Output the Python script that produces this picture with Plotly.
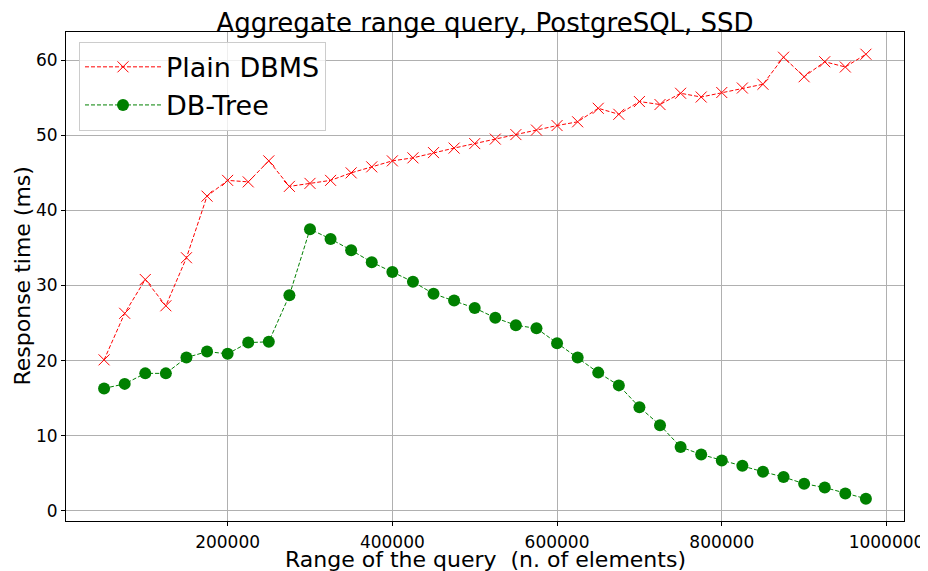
import plotly.graph_objects as go

x_range = [50000, 75000, 100000, 125000, 150000, 175000, 200000, 225000, 250000, 275000,
           300000, 325000, 350000, 375000, 400000, 425000, 450000, 475000, 500000, 525000,
           550000, 575000, 600000, 625000, 650000, 675000, 700000, 725000, 750000, 775000,
           800000, 825000, 850000, 875000, 900000, 925000, 950000, 975000]

plain_dbms = [20.1, 26.3, 30.8, 27.3, 33.7, 41.9, 44.0, 43.8, 46.6, 43.2,
              43.6, 44.0, 45.0, 45.8, 46.6, 47.0, 47.7, 48.3, 48.9, 49.5,
              50.1, 50.7, 51.3, 51.8, 53.6, 52.8, 54.5, 54.1, 55.6, 55.1,
              55.7, 56.3, 56.8, 60.4, 57.8, 59.8, 59.1, 60.8]

db_tree = [16.3, 16.9, 18.3, 18.3, 20.4, 21.2, 20.9, 22.4, 22.5, 28.7,
           37.5, 36.2, 34.7, 33.1, 31.8, 30.5, 28.9, 28.0, 27.0, 25.7,
           24.7, 24.3, 22.3, 20.4, 18.4, 16.7, 13.8, 11.4, 8.5, 7.5,
           6.7, 6.0, 5.2, 4.5, 3.6, 3.1, 2.3, 1.6]

x_ticks = [200000, 400000, 600000, 800000, 1000000]
y_ticks = [0, 10, 20, 30, 40, 50, 60]

FONT = "DejaVu Sans"

fig = go.Figure()
fig.add_trace(go.Scatter(
    x=x_range, y=plain_dbms, name="Plain DBMS", mode="lines+markers",
    line=dict(color="red", width=1, dash="4px,2px"),
    marker=dict(symbol="x-thin", size=11, color="red", line=dict(color="red", width=1)),
))
fig.add_trace(go.Scatter(
    x=x_range, y=db_tree, name="DB-Tree", mode="lines+markers",
    line=dict(color="green", width=1, dash="4px,2px"),
    marker=dict(symbol="circle", size=12, color="green", line=dict(width=0)),
))

axis_common = dict(
    showgrid=True, gridcolor="#b0b0b0", gridwidth=0.8,
    showline=True, linecolor="black", linewidth=1, mirror=True,
    ticks="outside", ticklen=4, tickcolor="black", tickwidth=1,
    zeroline=False, tickfont=dict(family=FONT, size=17, color="black"),
    automargin=False,
)

fig.update_xaxes(range=[3750, 1021250], tickvals=x_ticks, tickformat="d",
                 ticklabelstandoff=2, **axis_common)
fig.update_yaxes(range=[-1.36, 63.76], tickvals=y_ticks, **axis_common)

fig.add_annotation(text="Range of the query  (n. of elements)", xref="paper", yref="paper",
                   x=0.5, y=-0.078, xanchor="center", yanchor="middle", showarrow=False,
                   font=dict(family=FONT, size=22, color="black"))
fig.add_annotation(text="Response time (ms)", xref="paper", yref="paper",
                   x=-0.0525, y=0.5, xanchor="center", yanchor="middle", showarrow=False,
                   textangle=-90, font=dict(family=FONT, size=22, color="black"))

# The page body adds an 8px margin, so the figure is sized 8px smaller.
fig.update_layout(
    width=920, height=563,
    margin=dict(l=58, r=24, t=24, b=50, autoexpand=False),
    plot_bgcolor="white", paper_bgcolor="white",
    font=dict(family=FONT, color="black"),
    title=dict(text="Aggregate range query, PostgreSQL, SSD", x=0.5, xanchor="center",
               xref="paper", y=0.974, yanchor="middle", yref="container",
               font=dict(family=FONT, size=26, color="black")),
    legend=dict(x=0.0155, y=0.98, xanchor="left", yanchor="top", itemwidth=76,
                bgcolor="rgba(255,255,255,0.8)", bordercolor="#cccccc", borderwidth=1,
                font=dict(family=FONT, size=27, color="black")),
    showlegend=True,
)

fig.write_html("out.html")
